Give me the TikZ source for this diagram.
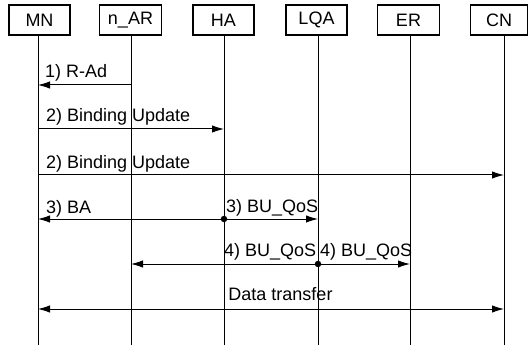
\documentclass[tikz,border=0pt]{standalone}
\usepackage{fontspec}
\setmainfont{Liberation Sans}
\usetikzlibrary{arrows.meta}
\begin{document}
\begin{tikzpicture}[x=1pt,y=-1pt,
  actor/.style={draw, line width=1.2pt, minimum height=30pt, inner sep=0pt, font=\fontsize{18}{21}\selectfont},
  life/.style={line width=1pt},
  msg/.style={line width=1pt, -{Latex[length=12pt,width=7.5pt]}},
  dmsg/.style={line width=1pt, {Latex[length=12pt,width=7.5pt]}-{Latex[length=12pt,width=7.5pt]}},
  lbl/.style={inner sep=0pt, font=\fontsize{18}{21}\selectfont},
  dotmark/.style={circle, fill, inner sep=0pt, minimum size=6.5pt}]
\useasboundingbox (0,0) rectangle (531,345);
% actors
\node[actor, minimum width=61pt] (MN)  at (39.5,20) {MN};
\node[actor, minimum width=62pt] (NAR) at (130.5,20) {n\_AR};
\node[actor, minimum width=61pt] (HA)  at (223.5,20) {HA};
\node[actor, minimum width=61pt] (LQA) at (316.5,20) {LQA};
\node[actor, minimum width=62pt] (ER)  at (408.5,20) {ER};
\node[actor, minimum width=57pt] (CN)  at (499,20) {CN};
% lifeline ends
\coordinate (MNb)  at (38,345);
\coordinate (NARb) at (131,345);
\coordinate (HAb)  at (224,345);
\coordinate (LQAb) at (318,345);
\coordinate (ERb)  at (410,345);
\coordinate (CNb)  at (504,345);
\draw[life] (MN.south -| MNb) -- (MNb);
\draw[life] (NAR.south -| NARb) -- (NARb);
\draw[life] (HA.south -| HAb) -- (HAb);
\draw[life] (LQA.south -| LQAb) -- (LQAb);
\draw[life] (ER.south -| ERb) -- (ERb);
\draw[life] (CN.south -| CNb) -- (CNb);
% message points
\coordinate (m1) at (38,85);  \coordinate (a1) at (131,85);
\coordinate (m2) at (38,129); \coordinate (h2) at (224,129);
\coordinate (m3) at (38,175); \coordinate (c3) at (504,175);
\coordinate (m4) at (38,219); \coordinate (h4) at (224,219); \coordinate (q4) at (318,219);
\coordinate (a5) at (131,264); \coordinate (q5) at (318,264); \coordinate (e5) at (410,264);
\coordinate (m6) at (38,309); \coordinate (c6) at (504,309);
% messages
\draw[msg] (a1) -- (m1);
\draw[msg] (m2) -- (h2);
\draw[msg] (m3) -- (c3);
\draw[msg] (h4) -- (m4);
\draw[msg] (h4) -- (q4);
\draw[msg] (q5) -- (a5);
\draw[msg] (q5) -- (e5);
\draw[dmsg] (m6) -- (c6);
\node[dotmark] (d1) at (h4) {};
\node[dotmark] (d2) at (q5) {};
% labels
\node[lbl, anchor=base west] (t1) at (45,78) {1) R-Ad};
\node[lbl, anchor=base west] (t2) at (46,122) {2) Binding Update};
\node[lbl, anchor=base west] (t3) at (46,168) {2) Binding Update};
\node[lbl, anchor=base west] (t4) at (46,213) {3) BA};
\node[lbl, anchor=base west] (t5) at (226,212.5) {3) BU\_QoS};
\node[lbl, anchor=base west] (t6) at (224,256.5) {4) BU\_QoS};
\node[lbl, anchor=base west] (t7) at (320,256.5) {4) BU\_QoS};
\node[lbl, anchor=base] (t8) at (280.5,300) {Data transfer};
\end{tikzpicture}
\end{document}
